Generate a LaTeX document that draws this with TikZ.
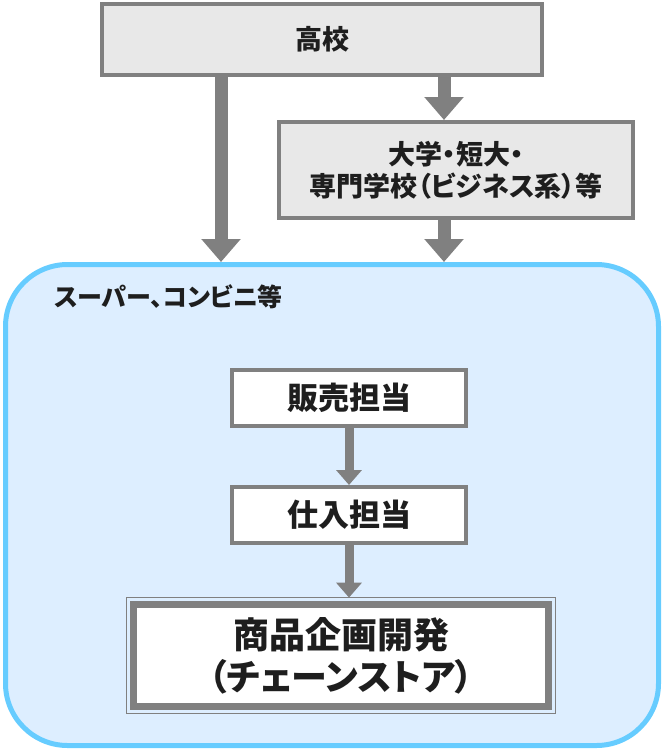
\documentclass[tikz,border=0pt]{standalone}
\usepackage{fontspec}
\setmainfont[RawFeature=+palt]{Noto Sans CJK JP}
\usetikzlibrary{arrows.meta, positioning, calc}

\definecolor{framegray}{HTML}{808080}
\definecolor{schoolfill}{HTML}{E8E8E8}
\definecolor{storeline}{HTML}{66CCFF}
\definecolor{storefill}{HTML}{DDEEFF}
\definecolor{ink}{HTML}{1E1E1E}

\tikzset{
    school/.style={draw=framegray, line width=4pt, fill=schoolfill, text=ink,
        align=center, inner sep=0pt, font=\bfseries\fontsize{27}{32}\selectfont},
    post/.style={draw=framegray, line width=4pt, fill=white, text=ink,
        minimum width=234pt, minimum height=56pt, inner sep=0pt,
        font=\bfseries\fontsize{31}{36}\selectfont},
    bigflow/.style={draw=framegray, line width=13pt, -{Triangle[width=38pt,length=23pt]}},
    smallflow/.style={draw=framegray, line width=9pt, -{Triangle[width=25pt,length=15pt]}},
}

\begin{document}
\begin{tikzpicture}[x=1pt, y=-1pt]
    \useasboundingbox (0,0) rectangle (664,750);

    % schools
    \node[school, minimum width=440pt, minimum height=71pt] (koukou) at (322,39.5) {高校};
    \node[school, minimum width=354pt, minimum height=96pt] (daigaku) at (456,170)
        {大学・短大・\\専門学校（ビジネス系）等};

    % store area
    \node[draw=storeline, line width=5pt, fill=storefill, rounded corners=62pt,
        minimum width=653pt, minimum height=481pt] (store) at (332,505) {};
    \node[anchor=west, text=ink, font=\bfseries\fontsize{25}{30}\selectfont] (storelabel)
        at (51,297) {スーパー、コンビニ等};

    \node[post] (hanbai) at (349,398) {販売担当};
    \node[post, below=57pt of hanbai] (shiire) {仕入担当};
    \node[draw=framegray, line width=7pt, fill=white, text=ink, align=center,
        minimum width=415pt, minimum height=102pt, inner sep=0pt,
        font=\bfseries\fontsize{36}{42}\selectfont] (shouhin) at (341,655.5)
        {商品企画開発\\（チェーンストア）};
    \draw[framegray, line width=1.3pt] ($(shouhin.north west)+(-3.4,-3.4)$)
        rectangle ($(shouhin.south east)+(3.4,3.4)$);

    % arrows
    \coordinate (leftdrop) at (221,0);
    \coordinate (rightdrop) at (444,0);
    \draw[bigflow] (koukou.south -| leftdrop) -- (store.north -| leftdrop);
    \draw[bigflow] (koukou.south -| rightdrop) -- (daigaku.north -| rightdrop);
    \draw[bigflow] (daigaku.south -| rightdrop) -- (store.north -| rightdrop);
    \draw[smallflow] (hanbai.south) -- (shiire.north);
    \draw[smallflow, shorten >=3.4pt] (shiire.south) -- (shiire.south |- shouhin.north);
\end{tikzpicture}
\end{document}
